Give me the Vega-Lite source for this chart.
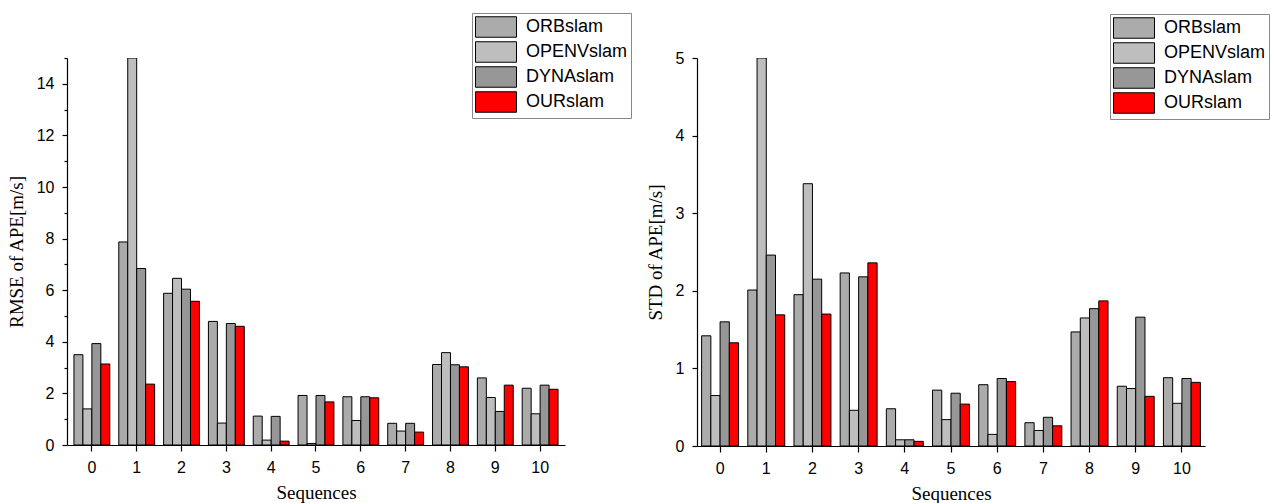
{
  "$schema": "https://vega.github.io/schema/vega-lite/v6.json",
  "padding": {"left": 7, "top": 12, "right": 0, "bottom": 0},
  "background": "white",
  "datasets": {
    "ape": [
      {"seq": "0", "method": "ORBslam", "rmse": 3.5, "std": 1.42},
      {"seq": "0", "method": "OPENVslam", "rmse": 1.4, "std": 0.65},
      {"seq": "0", "method": "DYNAslam", "rmse": 3.93, "std": 1.6},
      {"seq": "0", "method": "OURslam", "rmse": 3.14, "std": 1.33},
      {"seq": "1", "method": "ORBslam", "rmse": 7.87, "std": 2.01},
      {"seq": "1", "method": "OPENVslam", "rmse": 15.0, "std": 5.0},
      {"seq": "1", "method": "DYNAslam", "rmse": 6.84, "std": 2.46},
      {"seq": "1", "method": "OURslam", "rmse": 2.36, "std": 1.69},
      {"seq": "2", "method": "ORBslam", "rmse": 5.88, "std": 1.95},
      {"seq": "2", "method": "OPENVslam", "rmse": 6.46, "std": 3.38},
      {"seq": "2", "method": "DYNAslam", "rmse": 6.04, "std": 2.15},
      {"seq": "2", "method": "OURslam", "rmse": 5.57, "std": 1.7},
      {"seq": "3", "method": "ORBslam", "rmse": 4.79, "std": 2.23},
      {"seq": "3", "method": "OPENVslam", "rmse": 0.85, "std": 0.46},
      {"seq": "3", "method": "DYNAslam", "rmse": 4.71, "std": 2.18},
      {"seq": "3", "method": "OURslam", "rmse": 4.6, "std": 2.36},
      {"seq": "4", "method": "ORBslam", "rmse": 1.12, "std": 0.48},
      {"seq": "4", "method": "OPENVslam", "rmse": 0.19, "std": 0.08},
      {"seq": "4", "method": "DYNAslam", "rmse": 1.11, "std": 0.08},
      {"seq": "4", "method": "OURslam", "rmse": 0.15, "std": 0.06},
      {"seq": "5", "method": "ORBslam", "rmse": 1.92, "std": 0.72},
      {"seq": "5", "method": "OPENVslam", "rmse": 0.06, "std": 0.34},
      {"seq": "5", "method": "DYNAslam", "rmse": 1.92, "std": 0.68},
      {"seq": "5", "method": "OURslam", "rmse": 1.67, "std": 0.54},
      {"seq": "6", "method": "ORBslam", "rmse": 1.87, "std": 0.79},
      {"seq": "6", "method": "OPENVslam", "rmse": 0.95, "std": 0.15},
      {"seq": "6", "method": "DYNAslam", "rmse": 1.87, "std": 0.87},
      {"seq": "6", "method": "OURslam", "rmse": 1.83, "std": 0.83},
      {"seq": "7", "method": "ORBslam", "rmse": 0.84, "std": 0.3},
      {"seq": "7", "method": "OPENVslam", "rmse": 0.54, "std": 0.2},
      {"seq": "7", "method": "DYNAslam", "rmse": 0.84, "std": 0.37},
      {"seq": "7", "method": "OURslam", "rmse": 0.5, "std": 0.26},
      {"seq": "8", "method": "ORBslam", "rmse": 3.12, "std": 1.47},
      {"seq": "8", "method": "OPENVslam", "rmse": 3.58, "std": 1.65},
      {"seq": "8", "method": "DYNAslam", "rmse": 3.11, "std": 1.77},
      {"seq": "8", "method": "OURslam", "rmse": 3.03, "std": 1.87},
      {"seq": "9", "method": "ORBslam", "rmse": 2.6, "std": 0.77},
      {"seq": "9", "method": "OPENVslam", "rmse": 1.84, "std": 0.74},
      {"seq": "9", "method": "DYNAslam", "rmse": 1.3, "std": 1.66},
      {"seq": "9", "method": "OURslam", "rmse": 2.32, "std": 0.64},
      {"seq": "10", "method": "ORBslam", "rmse": 2.2, "std": 0.88},
      {"seq": "10", "method": "OPENVslam", "rmse": 1.21, "std": 0.55},
      {"seq": "10", "method": "DYNAslam", "rmse": 2.32, "std": 0.87},
      {"seq": "10", "method": "OURslam", "rmse": 2.16, "std": 0.82}
    ]
  },
  "data": {"name": "ape"},
  "hconcat": [
    {
      "width": 498,
      "height": 387,
      "mark": {"type": "bar", "stroke": "black", "strokeWidth": 1, "clip": true},
      "encoding": {
        "x": {
          "field": "seq", "type": "ordinal", "sort": null,
          "scale": {"paddingInner": 0.2, "paddingOuter": 0.155},
          "axis": {"title": "Sequences", "labelAngle": 0, "tickSize": 6, "labelPadding": 8, "titlePadding": 8}
        },
        "xOffset": {"field": "method", "type": "nominal", "sort": ["ORBslam", "OPENVslam", "DYNAslam", "OURslam"], "scale": {"paddingInner": 0, "paddingOuter": 0}},
        "y": {
          "field": "rmse", "type": "quantitative",
          "scale": {"domain": [0, 15], "nice": false},
          "axis": {
            "title": "RMSE of APE[m/s]",
            "values": [0, 1, 2, 3, 4, 5, 6, 7, 8, 9, 10, 11, 12, 13, 14, 15],
            "labelExpr": "datum.value % 2 === 0 && datum.value < 15 ? datum.label : ''",
            "tickSize": {"condition": {"test": "datum.value % 2 === 1", "value": 3}, "value": 5},
            "labelPadding": 8,
            "titlePadding": 10
          }
        },
        "fill": {
          "field": "method", "type": "nominal",
          "scale": {"domain": ["ORBslam", "OPENVslam", "DYNAslam", "OURslam"], "range": ["#ababab", "#bebebe", "#979797", "#ff0000"]},
          "legend": {"orient": "none", "legendX": 405, "legendY": -45, "title": null}
        }
      }
    },
    {
      "width": 508,
      "height": 388,
      "mark": {"type": "bar", "stroke": "black", "strokeWidth": 1, "clip": true},
      "encoding": {
        "x": {
          "field": "seq", "type": "ordinal", "sort": null,
          "scale": {"paddingInner": 0.2, "paddingOuter": 0.1},
          "axis": {"title": "Sequences", "labelAngle": 0, "tickSize": 6, "labelPadding": 8, "titlePadding": 8}
        },
        "xOffset": {"field": "method", "type": "nominal", "sort": ["ORBslam", "OPENVslam", "DYNAslam", "OURslam"], "scale": {"paddingInner": 0, "paddingOuter": 0}},
        "y": {
          "field": "std", "type": "quantitative",
          "scale": {"domain": [0, 5], "nice": false},
          "axis": {
            "title": "STD of APE[m/s]",
            "values": [0, 0.5, 1, 1.5, 2, 2.5, 3, 3.5, 4, 4.5, 5],
            "format": "d",
            "labelExpr": "datum.value % 1 === 0 ? datum.label : ''",
            "tickSize": {"condition": {"test": "datum.value % 1 !== 0", "value": 3}, "value": 5},
            "labelPadding": 8,
            "titlePadding": 10
          }
        },
        "fill": {
          "field": "method", "type": "nominal",
          "scale": {"domain": ["ORBslam", "OPENVslam", "DYNAslam", "OURslam"], "range": ["#ababab", "#bebebe", "#979797", "#ff0000"]},
          "legend": {"orient": "none", "legendX": 413, "legendY": -44, "title": null}
        }
      }
    }
  ],
  "resolve": {"scale": {"fill": "independent", "x": "independent", "y": "independent", "xOffset": "independent"}, "legend": {"fill": "independent"}},
  "spacing": 132,
  "bounds": "flush",
  "config": {
    "view": {"stroke": null},
    "axis": {
      "labelFont": "Liberation Sans", "labelFontSize": 16, "labelColor": "black",
      "titleFont": "Liberation Serif", "titleFontSize": 19, "titleFontWeight": "normal", "titleColor": "black",
      "domainColor": "black", "tickColor": "black", "grid": false, "domainWidth": 1.2, "tickWidth": 1.2
    },
    "legend": {
      "labelFont": "Liberation Sans", "labelFontSize": 18, "labelColor": "black",
      "symbolType": "M-2,-1H2V1H-2Z", "symbolSize": 420, "symbolOffset": 10,
      "symbolStrokeColor": "black", "symbolStrokeWidth": 1,
      "strokeColor": "#888888", "strokeWidth": 1, "fillColor": "white",
      "padding": 3, "rowPadding": -1, "labelOffset": 19, "labelLimit": 200
    }
  }
}
